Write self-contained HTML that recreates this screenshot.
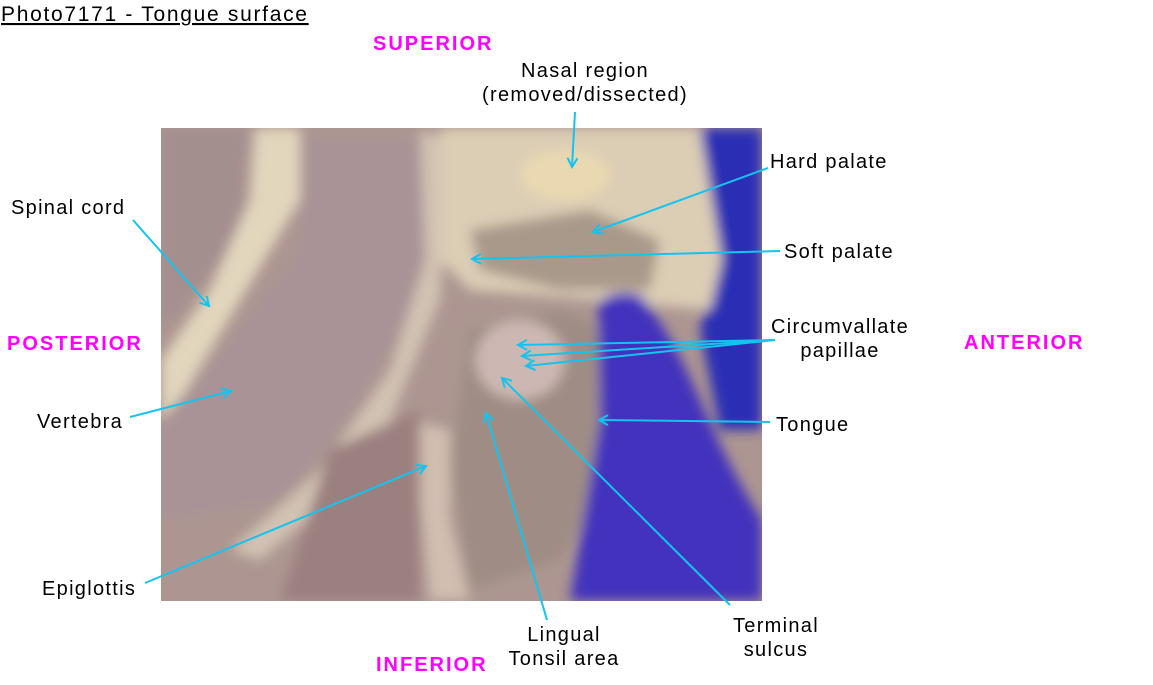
<!DOCTYPE html>
<html><head><meta charset="utf-8"><style>
html,body{margin:0;padding:0;background:#fff;}
svg{display:block}
text{font-family:"Liberation Sans",Arial,sans-serif;font-size:20px;fill:#000;letter-spacing:1.3px}
.m{fill:#ff00ff;font-weight:bold;font-size:20px;letter-spacing:2px}
.t{font-size:21px;letter-spacing:1.7px}
</style></head><body>
<svg width="1153" height="685" viewBox="0 0 1153 685" xmlns="http://www.w3.org/2000/svg">
<defs>
<clipPath id="c"><rect x="161" y="128" width="601" height="473"/></clipPath>
<filter id="b"><feGaussianBlur stdDeviation="6"/></filter>
<marker id="a" markerWidth="12" markerHeight="12" refX="10" refY="6" orient="auto" markerUnits="userSpaceOnUse">
<path d="M1,1 L10,6 L1,11" fill="none" stroke="#14c4ef" stroke-width="2"/></marker>
</defs>
<g clip-path="url(#c)">
<rect x="161" y="128" width="601" height="473" fill="#ad9691"/>
<g filter="url(#b)">
<path d="M690,128 L762,128 L762,430 L720,430 L700,330 L720,250 Z" fill="#2c2fb5"/>
<path d="M161,128 L250,128 L240,240 L161,330 Z" fill="#a48f8f"/>
<path d="M255,128 L300,128 L300,200 L240,300 L180,400 L161,420 L161,360 L210,290 L250,200 Z" fill="#e2d6bd"/>
<path d="M300,140 L420,140 L440,240 L400,330 L340,430 L280,500 L161,520 L161,420 L230,340 L300,250 Z" fill="#a99396"/>
<path d="M420,130 L450,140 L440,300 L390,420 L330,500 L260,560 L230,550 L320,470 L390,370 L425,260 Z" fill="#d2c2b2"/>
<path d="M440,128 L700,128 L722,260 L710,310 L600,300 L470,290 L440,260 Z" fill="#dccdb5"/>
<ellipse cx="565" cy="175" rx="45" ry="25" fill="#ead9b0"/>
<path d="M470,230 L590,210 L660,240 L650,290 L560,290 L480,270 Z" fill="#a9998a"/>
<path d="M470,330 L560,310 L610,330 L620,470 L560,560 L470,590 L450,460 Z" fill="#9f8d85"/>
<ellipse cx="520" cy="360" rx="45" ry="40" fill="#cdb7b2"/>
<path d="M410,420 L450,430 L450,520 L470,600 L430,601 L420,500 L400,470 Z" fill="#d1beb0"/>
<path d="M330,450 L420,410 L420,601 L280,601 Z" fill="#9b8080"/>
<path d="M598,305 Q610,288 640,295 Q670,330 700,400 Q730,470 762,520 L762,601 L570,601 L590,480 L600,420 Z" fill="#4331bd"/>
</g>
</g>
<g stroke="#14c4ef" stroke-width="2" fill="none" marker-end="url(#a)">
<line x1="575" y1="112" x2="572" y2="167"/>
<line x1="768" y1="168" x2="593" y2="232"/>
<line x1="780" y1="251" x2="472" y2="259"/>
<line x1="775" y1="340" x2="518" y2="345"/>
<line x1="775" y1="340" x2="522" y2="356"/>
<line x1="775" y1="340" x2="526" y2="366"/>
<line x1="770" y1="422" x2="599" y2="420"/>
<line x1="730" y1="605" x2="502" y2="378"/>
<line x1="547" y1="620" x2="486" y2="413"/>
<line x1="145" y1="583" x2="426" y2="466"/>
<line x1="130" y1="417" x2="231" y2="391"/>
<line x1="133" y1="220" x2="209" y2="306"/>
</g>
<text class="t" x="1" y="21" text-decoration="underline">Photo7171 - Tongue surface</text>
<text class="m" x="373" y="50">SUPERIOR</text>
<text class="m" x="7" y="350">POSTERIOR</text>
<text class="m" x="964" y="349">ANTERIOR</text>
<text class="m" x="376" y="671">INFERIOR</text>
<text x="585" y="77" text-anchor="middle">Nasal region</text>
<text x="585" y="101" text-anchor="middle">(removed/dissected)</text>
<text x="770" y="168">Hard palate</text>
<text x="784" y="258">Soft palate</text>
<text x="840" y="333" text-anchor="middle">Circumvallate</text>
<text x="840" y="357" text-anchor="middle">papillae</text>
<text x="776" y="431">Tongue</text>
<text x="11" y="214">Spinal cord</text>
<text x="37" y="428">Vertebra</text>
<text x="42" y="595">Epiglottis</text>
<text x="564" y="641" text-anchor="middle">Lingual</text>
<text x="564" y="665" text-anchor="middle">Tonsil area</text>
<text x="776" y="632" text-anchor="middle">Terminal</text>
<text x="776" y="656" text-anchor="middle">sulcus</text>
</svg>
</body></html>
